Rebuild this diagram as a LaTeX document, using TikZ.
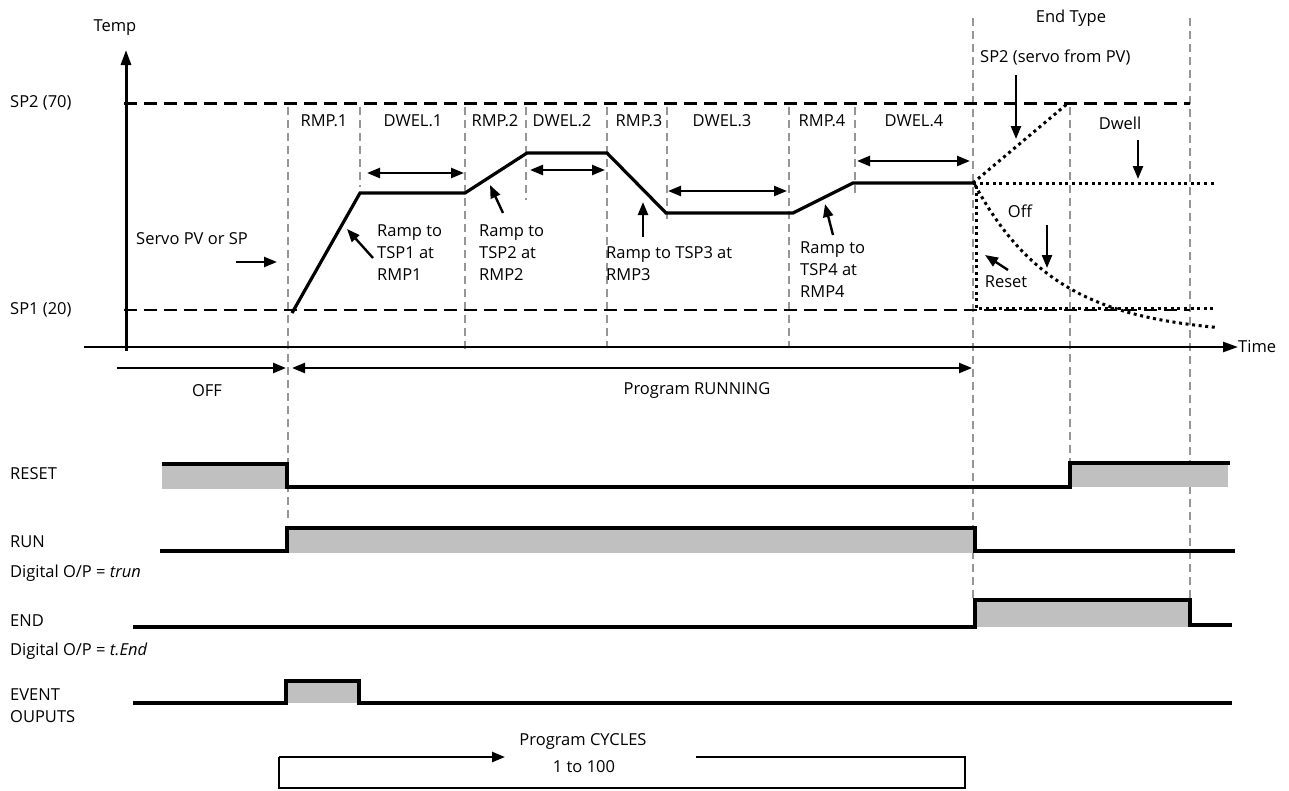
\documentclass[tikz,border=0pt]{standalone}
\usepackage{fontspec}
\setmainfont{Open Sans}
\usetikzlibrary{arrows.meta}
\definecolor{guidegray}{RGB}{150,150,150}
\definecolor{fillgray}{RGB}{192,192,192}
\begin{document}
\begin{tikzpicture}[x=1pt,y=-1pt,
  every node/.style={font=\fontsize{16.5}{22}\selectfont, inner sep=0pt},
  lbl/.style={anchor=west, align=left},
  axisline/.style={line width=3pt},
  spline/.style={line width=2.1pt, dash pattern=on 13pt off 7pt},
  guide/.style={line width=1.5pt, draw=guidegray, dash pattern=on 8pt off 5pt},
  prof/.style={line width=3.2pt, line join=miter},
  dotline/.style={line width=3pt, dash pattern=on 3pt off 3.6pt},
  arr/.style={line width=2.4pt, -{Triangle[length=13pt,width=10pt]}},
  darr/.style={line width=2.4pt, {Triangle[length=13pt,width=10pt]}-{Triangle[length=13pt,width=10pt]}},
  sig/.style={line width=3.2pt, line join=miter},
]
\useasboundingbox (0,0) rectangle (1289,790);

% ---------- guides (gray dashed verticals)
\draw[guide] (288,107) -- (288,520);
\draw[guide] (360,107) -- (360,187);
\draw[guide] (465,107) -- (465,352);
\draw[guide] (526,107) -- (526,200);
\draw[guide] (607,107) -- (607,347);
\draw[guide] (667,107) -- (667,222);
\draw[guide] (789,107) -- (789,347);
\draw[guide] (855,107) -- (855,197);
\draw[guide] (973,18) -- (973,598);
\draw[guide] (1070,107) -- (1070,462);
\draw[guide] (1190,18) -- (1190,600);

% ---------- setpoint levels
\draw[spline] (124,103.5) -- (1190,103.5);
\draw[spline] (124,310) -- (1190,310);

% ---------- axes
\node (temp) at (115,28) {Temp};
\coordinate (yb) at (126,351);
\coordinate (yt) at (126,50);
\draw[axisline, -{Triangle[length=15pt,width=10pt]}] (yb) -- (yt);
\coordinate (xl) at (84,347);
\node[lbl] (time) at (1238,347) {Time};
\draw[line width=2.4pt, -{Triangle[length=15pt,width=10pt]}] (xl) -- (time.west);

\node[lbl] (sp2) at (10,103) {SP2 (70)};
\node[lbl] (sp1) at (10,310) {SP1 (20)};

% ---------- segment labels
\node (lr1) at (324,121) {RMP.1};
\node (ld1) at (413,121) {DWEL.1};
\node (lr2) at (495,121) {RMP.2};
\node (ld2) at (562,121) {DWEL.2};
\node (lr3) at (639,121) {RMP.3};
\node (ld3) at (722,121) {DWEL.3};
\node (lr4) at (822,121) {RMP.4};
\node (ld4) at (914,121) {DWEL.4};

% ---------- profile
\coordinate (p0) at (292,313);
\coordinate (p1) at (360,193);
\coordinate (p2) at (465,193);
\coordinate (p3) at (527,153);
\coordinate (p4) at (607,153);
\coordinate (p5) at (666,213);
\coordinate (p6) at (793,213);
\coordinate (p7) at (853,183);
\coordinate (p8) at (973,183);
\draw[prof] (p0) -- (p1) -- (p2) -- (p3) -- (p4) -- (p5) -- (p6) -- (p7) -- (p8);

% ---------- dwell arrows
\coordinate (d1a) at (367,173); \coordinate (d1b) at (464,173);
\coordinate (d2a) at (530,170); \coordinate (d2b) at (605,170);
\coordinate (d3a) at (668,191); \coordinate (d3b) at (787,191);
\coordinate (d4a) at (857,161); \coordinate (d4b) at (970,161);
\draw[darr] (d1a) -- (d1b);
\draw[darr] (d2a) -- (d2b);
\draw[darr] (d3a) -- (d3b);
\draw[darr] (d4a) -- (d4b);

% ---------- ramp labels and arrows
\node[lbl] (servo) at (136,239) {Servo PV or SP};
\coordinate (sva) at (236,262); \coordinate (svb) at (277,262);
\draw[arr] (sva) -- (svb);

\node[lbl] (r1) at (377,253) {Ramp to\\TSP1 at\\RMP1};
\coordinate (r1a) at (373,258); \coordinate (r1b) at (347,229);
\draw[arr] (r1a) -- (r1b);

\node[lbl] (r2) at (479,253) {Ramp to\\TSP2 at\\RMP2};
\coordinate (r2a) at (503,213); \coordinate (r2b) at (490,185);
\draw[arr] (r2a) -- (r2b);

\node[lbl] (r3) at (606,263.5) {Ramp to TSP3 at\\RMP3};
\coordinate (r3a) at (643,237); \coordinate (r3b) at (643,202);
\draw[arr] (r3a) -- (r3b);

\node[lbl] (r4) at (800,270) {Ramp to\\TSP4 at\\RMP4};
\coordinate (r4a) at (833,235); \coordinate (r4b) at (825,204);
\draw[arr] (r4a) -- (r4b);

% ---------- end type
\node (endtype) at (1071,18) {End Type};
\node[lbl] (sp2s) at (980,57) {SP2 (servo from PV)};
\coordinate (e1a) at (1016,75); \coordinate (e1b) at (1016,139);
\draw[arr] (e1a) -- (e1b);
\coordinate (ep2) at (1067,104);
\draw[dotline] (p8) -- (ep2);

\node (dwell) at (1120,123) {Dwell};
\coordinate (e2a) at (1138,140); \coordinate (e2b) at (1138,179);
\draw[arr] (e2a) -- (e2b);
\coordinate (edw) at (1217,183);
\draw[dotline] (p8) -- (edw);

\node (off) at (1020,211) {Off};
\coordinate (e3a) at (1047,225); \coordinate (e3b) at (1047,268);
\draw[arr] (e3a) -- (e3b);
\draw[dotline] plot[domain=975:1217, samples=50] (\x, {335-150*exp(-(\x-975)/81)});

\node (reset) at (1006,282) {Reset};
\coordinate (e4a) at (1008,270); \coordinate (e4b) at (985,255);
\draw[arr] (e4a) -- (e4b);
\coordinate (rs0) at (976,186); \coordinate (rs1) at (976,308); \coordinate (rs2) at (1217,308);
\draw[dotline] (rs0) -- (rs1) -- (rs2);

% ---------- OFF / running arrows
\coordinate (oa) at (117,368); \coordinate (ob) at (286,368);
\draw[arr] (oa) -- (ob);
\coordinate (ra) at (292,368); \coordinate (rb) at (972,368);
\draw[darr] (ra) -- (rb);
\node (offl) at (207,391) {OFF};
\node (running) at (697,391) {Program RUNNING};

% ---------- signals
\node[lbl] (lreset) at (10,474) {RESET};
\fill[fillgray] (162,464) rectangle (287,489);
\fill[fillgray] (1070,463) rectangle (1228,487);
\draw[sig] (162,464) -- (287,464) -- (287,487) -- (1070,487) -- (1070,463) -- (1230,463);

\node[lbl] (lrun) at (10,542) {RUN};
\fill[fillgray] (287,528) rectangle (975,553);
\draw[sig] (160,551) -- (287,551) -- (287,528) -- (975,528) -- (975,551) -- (1235,551);
\node[lbl] (dig1) at (10,573) {Digital O/P = \textit{trun}};

\node[lbl] (lend) at (10,621) {END};
\fill[fillgray] (975,600) rectangle (1190,627);
\draw[sig] (133,627) -- (975,627) -- (975,600) -- (1190,600) -- (1190,625) -- (1232,625);
\node[lbl] (dig2) at (10,651) {Digital O/P = \textit{t.End}};

\node[lbl] (lev) at (10,706) {EVENT\\OUPUTS};
\fill[fillgray] (286,681) rectangle (359,703);
\draw[sig] (133,703) -- (286,703) -- (286,681) -- (359,681) -- (359,703) -- (1232,703);

% ---------- program cycles
\node (cyc) at (583,741) {Program CYCLES};
\node (cyc2) at (584,767) {1 to 100};
\coordinate (b1) at (279,757); \coordinate (b2) at (505,757);
\coordinate (b3) at (696,757); \coordinate (b4) at (965,757);
\coordinate (b5) at (965,788); \coordinate (b6) at (279,788);
\draw[line width=2.4pt] (b3) -- (b4) -- (b5) -- (b6) -- (b1);
\draw[arr] (b1) -- (b2);
\end{tikzpicture}
\end{document}
